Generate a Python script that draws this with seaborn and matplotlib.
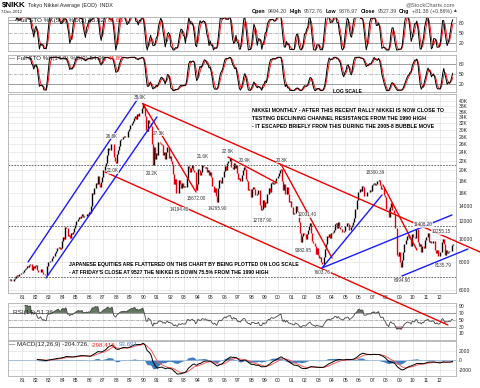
import numpy as np
import pandas as pd
import matplotlib
matplotlib.use("Agg")
import matplotlib.pyplot as plt
import seaborn as sns

sns.set_theme(style="white")
plt.rcParams["font.family"] = ["Liberation Sans", "DejaVu Sans"]
plt.rcParams["font.size"] = 4

W, H = 480, 388
T_LEFT, T_RIGHT = 1979.96, 2013.20
P_BOTTOM, P_TOP = 5850, 42900

# monthly closes of the Nikkei, Jan..Dec
closes_1980s = [
    6630, 6760, 6580, 6600, 6700, 6800, 6920, 7010, 6920, 7080, 7110, 7116,
    7210, 7350, 7450, 7480, 7660, 7600, 7750, 7820, 7330, 7680, 7550, 7681,
    7760, 7400, 7200, 7250, 7450, 7200, 7050, 7100, 7000, 6990, 7700, 8016,
    8050, 8050, 8300, 8450, 8500, 8700, 8940, 9180, 9300, 9100, 9200, 9893,
    10200, 10000, 11300, 11200, 10300, 10500, 10100, 10700, 10550, 10800, 11200, 11542,
    11990, 12300, 12580, 12420, 12700, 12880, 12460, 12640, 12700, 12860, 12760, 13113,
    13025, 14000, 15860, 15800, 16700, 17650, 17500, 18800, 17470, 16910, 17850, 18701,
    20000, 20800, 21570, 23270, 25000, 24500, 24500, 26000, 26000, 22760, 22000, 21564,
    23620, 24400, 25500, 27100, 27400, 27770, 28100, 27990, 27920, 27990, 29580, 30159,
    31580, 31980, 32840, 33710, 34270, 33290, 34950, 34430, 35640, 35550, 37270, 38916,
]
closes_1990s = [
    37189, 34591, 29980, 29585, 33131, 31940, 31035, 25978, 20984, 25194, 22454, 23849,
    23293, 26409, 26292, 26111, 25790, 23291, 24121, 22336, 23916, 25222, 22687, 22984,
    22023, 21339, 19346, 17391, 18348, 15952, 15910, 18061, 17399, 16767, 17684, 16925,
    17024, 16953, 18591, 20919, 20552, 19590, 20380, 21027, 20106, 19703, 16408, 17417,
    20229, 19997, 19112, 19725, 20974, 20644, 20462, 20629, 19564, 19990, 19076, 19723,
    18650, 17053, 16140, 16807, 15437, 14517, 16678, 18117, 17913, 17655, 18744, 19868,
    20813, 20125, 21407, 22041, 21956, 22531, 20693, 20167, 21556, 20467, 21020, 19361,
    18330, 18557, 18003, 19151, 20068, 20605, 20331, 18229, 17888, 16459, 16636, 15259,
    16628, 16831, 16527, 15641, 15671, 15830, 16379, 14108, 13406, 13565, 14884, 13842,
    14499, 14368, 15837, 16701, 16112, 17530, 17862, 17437, 17605, 17942, 18558, 18934,
]
closes_2000s = [
    19540, 19959, 20337, 17974, 16332, 17411, 15727, 16861, 15747, 14539, 14649, 13785,
    13843, 12883, 12999, 13934, 13262, 12969, 11860, 10713, 9774, 10366, 10697, 10542,
    9997, 10587, 11024, 11492, 11763, 10621, 9877, 9619, 9383, 8640, 9215, 8578,
    8339, 8363, 7972, 7831, 8425, 9083, 9563, 10343, 10219, 10560, 10100, 10676,
    10783, 11041, 11715, 11761, 11236, 11858, 11325, 11081, 10823, 10771, 10899, 11488,
    11387, 11740, 11668, 11008, 11276, 11584, 11899, 12413, 13574, 13606, 14872, 16111,
    16649, 16205, 17059, 16906, 15467, 15505, 15456, 16140, 16127, 16399, 16274, 17225,
    17383, 17604, 17287, 17400, 17875, 18138, 17248, 16569, 16785, 16737, 15680, 15307,
    13592, 13603, 12525, 13849, 14338, 13481, 13376, 13072, 11259, 8576, 8512, 8859,
    7994, 7568, 8109, 8828, 9522, 9958, 10356, 10492, 10133, 10034, 9345, 10546,
]
closes_2010s = [
    10198, 10126, 11089, 11057, 9768, 9382, 9537, 8824, 9369, 9202, 9937, 10228,
    10237, 10624, 9755, 9849, 9693, 9816, 9833, 8955, 8700, 8988, 8435, 8455,
    8803, 9723, 10083, 9521, 8542, 9007, 8695, 8840, 8870, 8928, 9446, 9527,
]

year_ticks = list(range(1981, 2013))
year_labels = ["%02d" % (y % 100) for y in year_ticks]

price_ticks = [40000, 38000, 36000, 34000, 32000, 30000, 28000, 26000, 24000,
               22000, 20000, 18000, 16000, 14000, 12000, 10000, 8000, 6000]
price_labels = ["40K", "38K", "36K", "34K", "32K", "30K", "28K", "26K", "24K",
                "22K", "20K", "18K", "16K", "14000", "12000", "10000", "8000", "6000"]

# trend lines: (date, price) -> (date, price)
red_lines = [
    ((1989.96, 38957), (2014.98, 8824)),
    ((1987.16, 19652), (2012.60, 4248)),
    ((1989.96, 38957), (1993.91, 16085)),
    ((1996.28, 22837), (1999.92, 17604)),
    ((2000.29, 20864), (2004.00, 8309)),
    ((2007.78, 17255), (2010.30, 9002)),
]
blue_lines = [
    ((1981.45, 7981), (1989.68, 41640)),
    ((1982.78, 6801), (1991.01, 34080)),
    ((2003.26, 7516), (2007.71, 15611)),
    ((2003.26, 7516), (2012.90, 12776)),
    ((2009.19, 6937), (2014.09, 9091)),
]
dashed_levels = [21000, 11408, 6850]

peak_labels = [
    (1989.75, 41230, "38.9K"), (1987.68, 28170, "26.6K"), (1987.75, 19855, "21.0K"),
    (1991.16, 29030, "27.3K"), (1990.64, 19265, "20.2K"), (1992.65, 13430, "14194.40"),
    (1993.91, 15005, "15672.00"), (1994.43, 22840, "21.6K"), (1995.47, 13565, "14295.90"),
    (1996.28, 24010, "22.8K"), (1997.54, 22150, "20.9K"), (2000.29, 22150, "20.8K"),
    (1998.80, 12030, "12787.90"), (2002.14, 12776, "12031.40"), (2001.85, 8913, "9382.95"),
    (2003.26, 7148, "7603.76"), (2007.19, 19457, "18300.39"), (2010.75, 11557, "11408.20"),
    (2012.08, 10780, "10255.15"), (2009.19, 6600, "6994.90"), (2012.23, 7668, "8135.79"),
]

closes = np.array(closes_1980s + closes_1990s + closes_2000s + closes_2010s, dtype=float)
t = 1980 + (np.arange(len(closes)) + 0.5) / 12
c = pd.Series(closes)


def full_sto(s, n):
    ll = s.rolling(n).min()
    hh = s.rolling(n).max()
    k = (100 * (s - ll) / (hh - ll)).rolling(3).mean()
    return k, k.rolling(3).mean()


k5, d5 = full_sto(c, 5)
k14, d14 = full_sto(c, 14)

delta = c.diff()
gain = delta.clip(lower=0).ewm(alpha=1 / 14, adjust=False).mean()
loss = (-delta.clip(upper=0)).ewm(alpha=1 / 14, adjust=False).mean()
rsi = 100 - 100 / (1 + gain / loss)
rsi[:14] = np.nan

macd = c.ewm(span=12, adjust=False).mean() - c.ewm(span=26, adjust=False).mean()
signal = macd.ewm(span=9, adjust=False).mean()
hist = macd - signal
macd[:25] = np.nan
signal[:25] = np.nan
hist[:25] = np.nan

fig = plt.figure(figsize=(W / 100, H / 100), dpi=100)
fig.patch.set_facecolor("white")
renderer = fig.canvas.get_renderer()


def axes_px(x0, y0, x1, y1):
    return fig.add_axes([x0 / W, 1 - y1 / H, (x1 - x0) / W, (y1 - y0) / H])


def ftext(x, y, s, **kw):
    kw.setdefault("va", "center")
    kw.setdefault("color", "#222222")
    return fig.text(x / W, 1 - y / H, s, **kw)


def text_width(s, size, weight="normal"):
    tmp = fig.text(0, 0, s, fontsize=size, fontweight=weight)
    w = tmp.get_window_extent(renderer=renderer).width
    tmp.remove()
    return w


def fit_size(s, width, weight="normal"):
    return 4 * width / text_width(s, 4, weight)


def parts_text(x, y, parts, width, gap=1.5):
    # run of differently coloured pieces squeezed into a given pixel width,
    # all sharing one baseline
    joined = "".join(p[0] for p in parts)
    weight = "bold" if any(p[2] == "bold" for p in parts) else "normal"
    size = fit_size(joined, width - gap * (len(parts) - 1), weight)
    for s, col, wt in parts:
        ftext(x, y + 1.8, s, fontsize=size, color=col, fontweight=wt, va="baseline")
        x += text_width(s, size, wt) + gap


def style_panel(ax, yticks, ylabels):
    ax.set_xlim(T_LEFT, T_RIGHT)
    ax.set_facecolor("white")
    for sp in ax.spines.values():
        sp.set_color("#b0b0b0")
        sp.set_linewidth(0.6)
    ax.set_xticks(year_ticks)
    ax.set_xticklabels(year_labels)
    ax.xaxis.grid(True, color="#e3e3e3", lw=0.5)
    ax.yaxis.tick_right()
    ax.set_yticks(yticks)
    ax.set_yticklabels(ylabels)
    ax.tick_params(axis="both", length=0, labelsize=3.6, colors="#222222", pad=2)
    ax.tick_params(axis="x", labelbottom=False)
    ax.set_xlabel("")
    ax.set_ylabel("")


# STO panels
sto_panels = [
    ((8, 17, 456, 51), (k5, d5), (-3, 99.5),
     [("— Full STO %K(5,3) %D(3) 85.82,", "#222222", "normal"), ("68.66", "#ff2020", "normal")]),
    ((8, 55, 456, 92), (k14, d14), (-4, 107),
     [("— Full STO %K(14,3) %D(3) 54.96,", "#222222", "normal"), ("44.89", "#ff2020", "normal")]),
]
for (x0, y0, x1, y1), (k, d), lim, lab in sto_panels:
    ax = axes_px(x0, y0, x1, y1)
    style_panel(ax, [80, 50, 20], ["80", "50", "20"])
    ax.set_ylim(*lim)
    ax.axhline(80, color="#8c8c8c", lw=0.6)
    ax.axhline(20, color="#8c8c8c", lw=0.6)
    ax.axhline(50, color="#9a9a9a", lw=0.5, ls=(0, (4, 1.5, 1, 1.5)))
    sns.lineplot(x=t, y=d.values, ax=ax, color="#ff1a1a", lw=0.7, estimator=None, sort=False)
    sns.lineplot(x=t, y=k.values, ax=ax, color="black", lw=0.7, estimator=None, sort=False)
    ax.set_xlabel("")
    ax.set_ylabel("")
    parts_text(9, y0 + 3, lab, 113)

# main price panel
ax = axes_px(8, 94, 456, 293)
ax.set_zorder(5)
ax.set_yscale("log")
style_panel(ax, price_ticks, price_labels)
ax.yaxis.set_minor_locator(matplotlib.ticker.NullLocator())
ax.set_ylim(P_BOTTOM, P_TOP)
ax.yaxis.grid(True, color="#e3e3e3", lw=0.5)
ax.tick_params(axis="x", labelbottom=True, pad=1.5)

opens = np.r_[closes[0], closes[:-1]]
up = closes >= opens
ax.vlines(t[up], opens[up], closes[up], color="black", lw=1.0)
ax.vlines(t[~up], closes[~up], opens[~up], color="#e8000b", lw=1.0)

for lvl in dashed_levels:
    ax.axhline(lvl, color="#555555", lw=0.6, ls=(0, (2, 1.5)))
for (a, b) in red_lines:
    ax.plot([a[0], b[0]], [a[1], b[1]], color="#f00000", lw=1.0, clip_on=False, zorder=6)
for (a, b) in blue_lines:
    ax.plot([a[0], b[0]], [a[1], b[1]], color="#1a1aff", lw=1.0, clip_on=False, zorder=6)
for (tx, py, s) in peak_labels:
    ax.text(tx, py, s, fontsize=3.3, ha="center", va="center", color="#333333", zorder=7,
            bbox=dict(fc="white", ec="none", pad=0.2, alpha=0.75))

ftext(13, 97.5, "$NIKK (Monthly) 9527.39", fontsize=fit_size("$NIKK (Monthly) 9527.39", 70))
ftext(13, 103, "Volume undef", fontsize=fit_size("Volume undef", 31))

note_top = ["NIKKEI MONTHLY - AFTER THIS RECENT RALLY NIKKEI IS NOW CLOSE TO",
            "TESTING DECLINING CHANNEL RESISTANCE FROM THE 1990 HIGH",
            "- IT ESCAPED BRIEFLY FROM THIS DURING THE 2005-8 BUBBLE MOVE"]
note_bottom = ["JAPANESE EQUITIES ARE FLATTERED ON THIS CHART BY BEING PLOTTED ON LOG SCALE",
               "- AT FRIDAY'S CLOSE AT 9527 THE NIKKEI IS DOWN 75.5% FROM THE 1990 HIGH"]
size_top = fit_size(note_top[0], 186, "bold")
size_bottom = fit_size(note_bottom[0], 228, "bold")
for i, s in enumerate(note_top):
    ftext(252, 111 + 7.5 * i, s, fontsize=size_top, fontweight="bold", color="black", zorder=10)
for i, s in enumerate(note_bottom):
    ftext(69, 264.5 + 8.5 * i, s, fontsize=size_bottom, fontweight="bold", color="black", zorder=10)
ftext(347, 91.5, "LOG SCALE", ha="center", fontsize=fit_size("LOG SCALE", 28, "bold"),
      fontweight="bold", color="black", zorder=10)

# RSI panel
ax = axes_px(8, 303, 456, 340)
style_panel(ax, [90, 70, 50, 30, 10], ["90", "70", "50", "30", "10"])
ax.set_ylim(-9, 99)
ax.yaxis.grid(True, color="#e3e3e3", lw=0.5)
ax.axhline(70, color="#8c8c8c", lw=0.6)
ax.axhline(30, color="#8c8c8c", lw=0.6)
ax.axhline(50, color="#9a9a9a", lw=0.5, ls=(0, (4, 1.5, 1, 1.5)))
rv = rsi.values
ax.fill_between(t, 70, rv, where=rv > 70, interpolate=True, color="#62785f", lw=0)
ax.fill_between(t, 30, rv, where=rv < 30, interpolate=True, color="#b03a3a", lw=0)
sns.lineplot(x=t, y=rv, ax=ax, color="#444444", lw=0.6, estimator=None, sort=False)
ax.set_xlabel("")
ax.set_ylabel("")
ftext(13, 312.5, "RSI(14) 51.36", fontsize=fit_size("RSI(14) 51.36", 40))

# MACD panel
ax = axes_px(8, 341, 456, 376)
style_panel(ax, [2000, 0, -2000], ["2000", "0", "-2000"])
ax.set_ylim(-3263, 4105)
ax.yaxis.grid(True, color="#e3e3e3", lw=0.5)
ax.tick_params(axis="x", labelbottom=True, pad=1.5)
hv = hist.values
ax.fill_between(t, 0, hv, color="#3f7fc0", lw=0)
ax.axhline(0, color="#9fb8d8", lw=0.6)
sns.lineplot(x=t, y=signal.values, ax=ax, color="#ff5a5a", lw=0.7, estimator=None, sort=False)
sns.lineplot(x=t, y=macd.values, ax=ax, color="black", lw=0.7, estimator=None, sort=False)
ax.set_xlabel("")
ax.set_ylabel("")
parts_text(9, 344.5, [("— MACD(12,26,9) -204.726,", "#222222", "normal"),
                      ("-298.416,", "#ff2020", "normal"),
                      ("93.691", "#4a7fd0", "normal")], 128)

# header
ftext(2, 5, "$NIKK", fontsize=fit_size("$NIKK", 24, "bold"), fontweight="bold", color="black")
ftext(28, 5, "Tokyo Nikkei Average (EOD)  INDX",
      fontsize=fit_size("Tokyo Nikkei Average (EOD)  INDX", 84))
ftext(1, 12, "7-Dec-2012", fontsize=fit_size("7-Dec-2012", 22))
ftext(455, 4.5, "@StockCharts.com", ha="right", color="#555555",
      fontsize=fit_size("@StockCharts.com", 49))
parts_text(252, 11, [("Open", "black", "bold"), ("9494.20", "#444444", "normal"),
                     ("High", "black", "bold"), ("9572.76", "#444444", "normal"),
                     ("Low", "black", "bold"), ("9376.97", "#444444", "normal"),
                     ("Close", "black", "bold"), ("9527.39", "#444444", "normal"),
                     ("Chg", "black", "bold"), ("+81.38 (+0.86%)", "#444444", "normal")],
           196, gap=2.5)
ftext(452, 11, "▲", fontsize=3.5, color="#444444")

fig.savefig("out.png", dpi=100, facecolor="white")
